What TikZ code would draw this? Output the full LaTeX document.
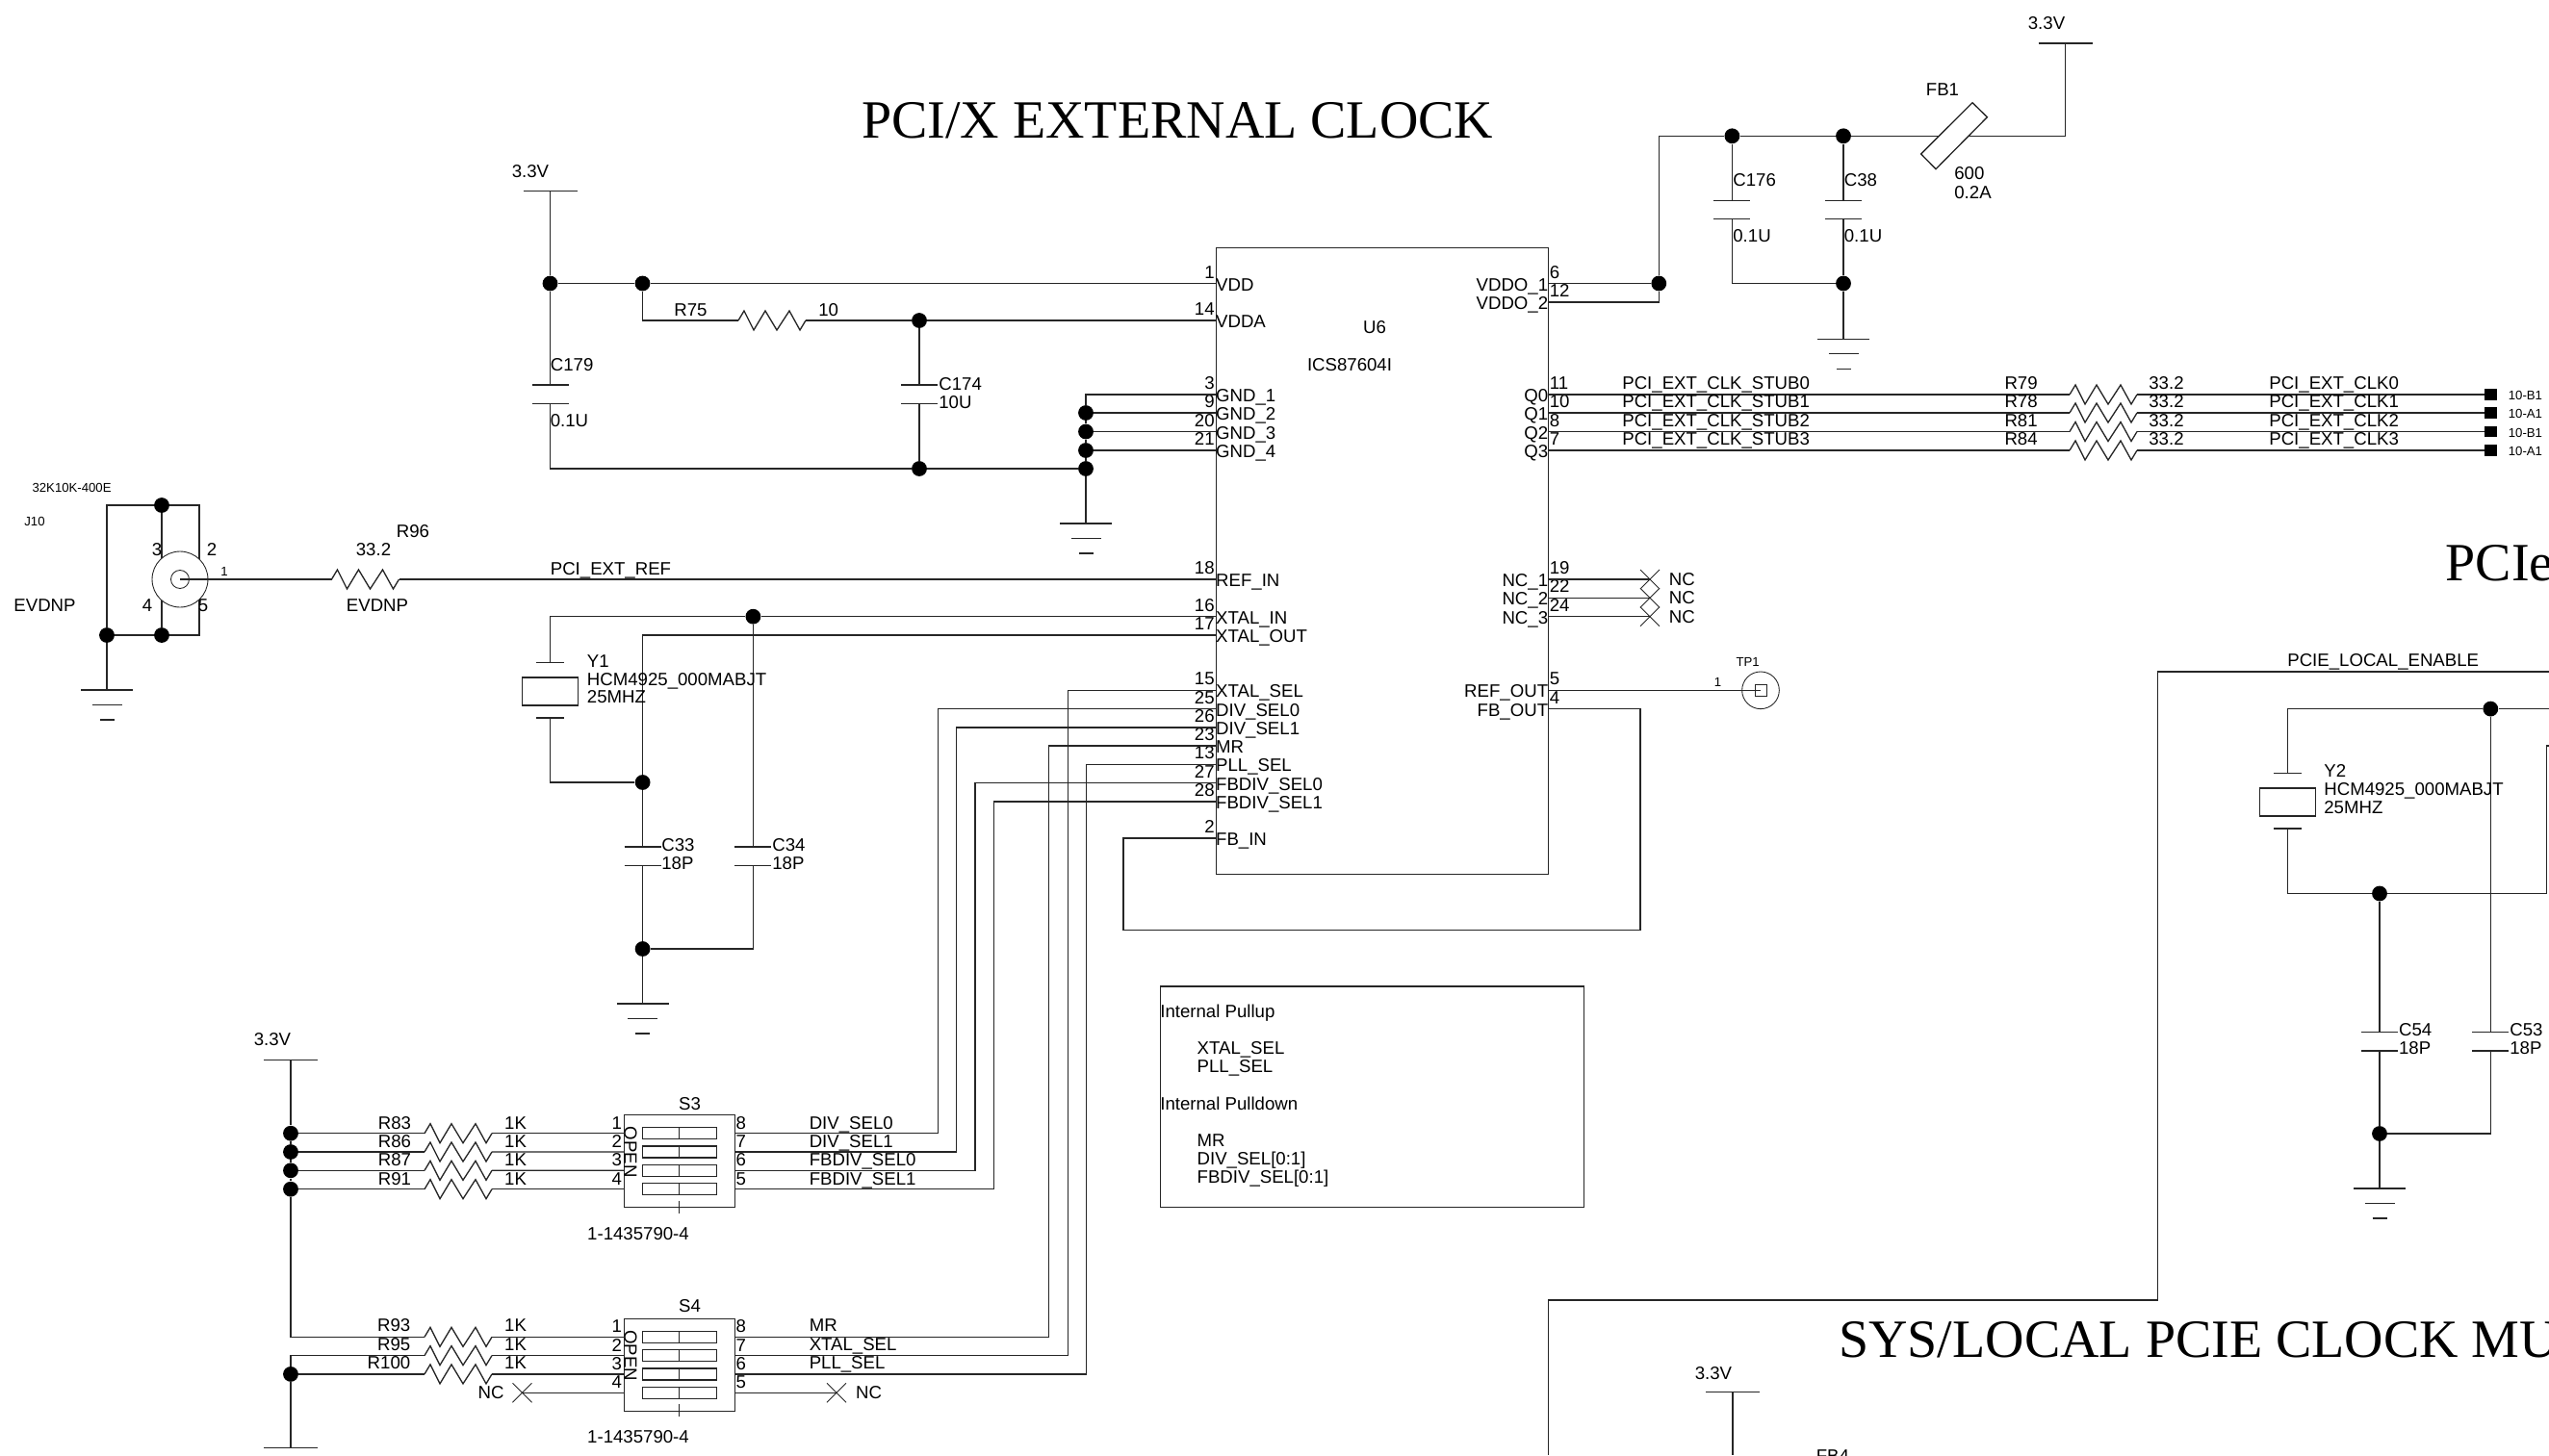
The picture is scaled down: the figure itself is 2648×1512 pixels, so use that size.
\documentclass[tikz,border=0pt]{standalone}
\usepackage{fontspec}
\setmainfont{Liberation Sans}
\newfontfamily\titlefont{Liberation Serif}
\usetikzlibrary{positioning}
\tikzset{
  wire/.style={line width=.75pt,draw=black!85},
  junc/.style={circle,fill=black,inner sep=0pt,minimum size=9pt},
  txt/.style={inner sep=0pt,text height=7.6pt,text depth=0pt,font=\fontsize{10.6}{12}\selectfont},
  tinytxt/.style={inner sep=0pt,text height=5.4pt,text depth=0pt,font=\fontsize{7.5}{9}\selectfont},
  heading/.style={inner sep=0pt,anchor=base west,font=\titlefont\fontsize{31.85}{36}\selectfont},
  pics/res/.style={code={
    \draw[wire] (0,0) -- (6,-10) -- (16,10) -- (28,-10) -- (40,10) -- (53,-10) -- (64,10) -- (70,0);
    \coordinate (-in) at (0,0);
    \coordinate (-out) at (70,0);}},
  pics/cap/.style={code={
    \draw[wire] (-19,0) -- (19,0) (-19,19.5) -- (19,19.5);
    \coordinate (-a) at (0,0);
    \coordinate (-b) at (0,19.5);}},
  pics/gnd/.style={code={
    \draw[wire] (-27,0) -- (27,0) (-15.5,15.5) -- (15.5,15.5) (-7.5,31) -- (7.5,31);
    \coordinate (-top) at (0,0);}},
  pics/vcc/.style={code={
    \draw[wire] (-28,0) -- (28,0);
    \coordinate (-o) at (0,0);}},
  pics/xtal/.style={code={
    \draw[wire] (-14.5,0) -- (14.5,0) (-14.5,57.5) -- (14.5,57.5) (-29,15.5) rectangle (29,44.5);
    \coordinate (-a) at (0,0);
    \coordinate (-b) at (0,57.5);}},
  pics/cross/.style={code={
    \draw[wire,line width=.5pt] (-10,-10) -- (10,10) (-10,10) -- (10,-10);
    \coordinate (-c) at (0,0);}},
  pics/bead/.style={code={
    \draw[wire,fill=white] (19.6,-34.6) -- (35,-19.6) -- (-18.4,34.4) -- (-33.8,18.7) -- cycle;
    \coordinate (-w) at (-15.3,0);
    \coordinate (-e) at (15.3,0);}},
  pics/dip/.style={code={
    \draw[wire] (0,0) rectangle (115,96);
    \draw[wire] (57,89) -- (57,102);
    \node[txt,rotate=-90] (-open) at (6.5,38.5) {OPEN};
    \foreach \i/\k/\yy in {1/8/19,2/7/38.3,3/6/57.6,4/5/77}{
      \draw[wire] (19,\yy-6) rectangle (96,\yy+6) (57,\yy-6) -- (57,\yy+6);
      \coordinate (-l\i) at (0,\yy);
      \coordinate (-r\i) at (115,\yy);
      \node[txt,anchor=east] (-nl\i) at (-2.3,\yy-11) {\i};
      \node[txt,anchor=west] (-nr\i) at (115.5,\yy-11) {\k};
    }}}
}
\begin{document}
\begin{tikzpicture}[x=0.02cm,y=-0.02cm]
  \clip (0,0) rectangle (2648,1512);

  \node[heading] (title1) at (895,143.7) {PCI/X EXTERNAL CLOCK};
  \node[heading] (title2) at (2540.2,603) {PCIe};
  \node[heading] (title3) at (1910,1410) {SYS/LOCAL PCIE CLOCK MU};

  % U6
  \node[draw=black!85,line width=.75pt,minimum width=346.5pt*.5669,minimum height=654pt*.5669,inner sep=0pt,anchor=north west] (u6) at (1262.5,256.5) {};
  \node[txt] (u6name) at (1428,340) {U6};
  \node[txt] (u6part) at (1402,379) {ICS87604I};
  \foreach \pn/\lab/\yy in {1/VDD/294.5,14/VDDA/333,3/GND\_1/410,9/GND\_2/429,20/GND\_3/448.5,21/GND\_4/468,18/REF\_IN/602,16/XTAL\_IN/640.7,17/XTAL\_OUT/660,15/XTAL\_SEL/717.3,25/DIV\_SEL0/736.6,26/DIV\_SEL1/756,23/MR/775,13/PLL\_SEL/794.3,27/FBDIV\_SEL0/813.5,28/FBDIV\_SEL1/833,2/FB\_IN/871}{
    \coordinate (p\pn) at (1262.5,\yy);
    \node[txt,anchor=east] (n\pn) at (1262,\yy-12) {\pn};
    \node[txt,anchor=west] (t\pn) at (1262.8,\yy+1) {\lab};
  }
  \foreach \pn/\lab/\yy in {6/VDDO\_1/294.5,12/VDDO\_2/314,11/Q0/410,10/Q1/429,8/Q2/448.5,7/Q3/468,19/NC\_1/602,22/NC\_2/621.3,24/NC\_3/640.7,5/REF\_OUT/717.3,4/FB\_OUT/736.6}{
    \coordinate (p\pn) at (1609,\yy);
    \node[txt,anchor=west] (n\pn) at (1609.5,\yy-12) {\pn};
    \node[txt,anchor=east] (t\pn) at (1608.5,\yy+1) {\lab};
  }

  % VDD side
  \pic (v1) at (571.5,198.7) {vcc};
  \node[txt] (v1t) at (551,178) {3.3V};
  \node[junc] (j1) at (571.5,294.5) {};
  \node[junc] (j2) at (667.5,294.5) {};
  \node[junc] (j3) at (955,333) {};
  \node[junc] (j4) at (955,487) {};
  \node[junc] (j5) at (1128,429) {};
  \node[junc] (j6) at (1128,448.5) {};
  \node[junc] (j7) at (1128,468) {};
  \node[junc] (j8) at (1128,487) {};
  \pic (r75) at (767,333) {res};
  \pic (c179) at (571.5,400) {cap};
  \pic (c174) at (955,400) {cap};
  \pic (g1) at (1128,544) {gnd};
  \draw[wire] (v1-o) -- (j1) -- (j2) -- (p1);
  \draw[wire] (j2) |- (r75-in);
  \draw[wire] (r75-out) -- (j3) -- (p14);
  \draw[wire] (j1) -- (c179-a);
  \draw[wire] (c179-b) |- (j4);
  \draw[wire] (j3) -- (c174-a);
  \draw[wire] (c174-b) -- (j4) -- (j8) -- (g1-top);
  \draw[wire] (p3) -| (j5);
  \draw[wire] (j5) -- (p9);
  \draw[wire] (j6) -- (p20);
  \draw[wire] (j7) -- (p21);
  \draw[wire] (j5) -- (j6) -- (j7) -- (j8);
  \node[txt,anchor=west] (r75t) at (700,321.7) {R75};
  \node[txt,anchor=west] (r75v) at (850,321.7) {10};
  \node[txt,anchor=west] (c179t) at (571.5,378.7) {C179};
  \node[txt,anchor=west] (c179v) at (571.5,436.7) {0.1U};
  \node[txt,anchor=west] (c174t) at (975,398.7) {C174};
  \node[txt,anchor=west] (c174v) at (975,417.7) {10U};

  % J10 and reference input
  \node[junc] (ja) at (168,525) {};
  \node[junc] (jb) at (168,660) {};
  \node[junc] (jc) at (111,660) {};
  \coordinate (jd) at (207,660);
  \pic (g2) at (111,717) {gnd};
  \pic (r96) at (344.5,602) {res};
  \draw[wire] (jc) |- (ja) -| (jd) -- (jb) -- (jc);
  \draw[wire] (ja) -- (jb);
  \draw[wire] (jc) -- (g2-top);
  \node[circle,draw=black!85,fill=white,line width=.5pt,inner sep=0pt,minimum size=33pt] (j10) at (187,602) {};
  \node[circle,draw=black!85,line width=.5pt,inner sep=0pt,minimum size=10.8pt] (j10in) at (187,602) {};
  \draw[wire] (j10in.center) -- (r96-in);
  \draw[wire] (r96-out) -- (p18);
  \node[tinytxt] (j10part) at (74.6,506.7) {32K10K-400E};
  \node[tinytxt] (j10t) at (36,542) {J10};
  \node[txt] (j3t) at (163,570.7) {3};
  \node[txt] (j2t) at (220,570.7) {2};
  \node[txt] (j4t) at (153,629) {4};
  \node[txt] (j5t) at (211,629) {5};
  \node[tinytxt] (j1t) at (233,593.6) {1};
  \node[txt] (dnp1) at (46.5,629) {EVDNP};
  \node[txt] (dnp2) at (392,629) {EVDNP};
  \node[txt] (r96t) at (429,551.7) {R96};
  \node[txt] (r96v) at (388,571) {33.2};
  \node[txt,anchor=west] (refnet) at (571.5,590.5) {PCI\_EXT\_REF};

  % Y1
  \pic (y1) at (571.8,688.5) {xtal};
  \node[junc] (j9) at (782.4,640.7) {};
  \node[junc] (j11) at (667.6,813) {};
  \node[junc] (j12) at (667.6,986) {};
  \pic (c33) at (667.6,880) {cap};
  \pic (c34) at (782.4,880) {cap};
  \pic (g3) at (667.6,1043) {gnd};
  \draw[wire] (p16) -- (j9) -| (y1-a);
  \draw[wire] (p17) -| (j11);
  \draw[wire] (y1-b) |- (j11);
  \draw[wire] (j11) -- (c33-a);
  \draw[wire] (c33-b) -- (j12) -- (g3-top);
  \draw[wire] (j9) -- (c34-a);
  \draw[wire] (c34-b) |- (j12);
  \node[txt,anchor=west] (y1t) at (609.6,686.6) {Y1};
  \node[txt,anchor=west] (y1p) at (609.6,705.5) {HCM4925\_000MABJT};
  \node[txt,anchor=west] (y1f) at (609.6,724) {25MHZ};
  \node[txt,anchor=west] (c33t) at (687,878) {C33};
  \node[txt,anchor=west] (c33v) at (687,897) {18P};
  \node[txt,anchor=west] (c34t) at (802,878) {C34};
  \node[txt,anchor=west] (c34v) at (802,897) {18P};

  % VDDO
  \node[junc] (j13) at (1723.3,294.5) {};
  \node[junc] (j14) at (1799.4,141.3) {};
  \node[junc] (j15) at (1915,141.3) {};
  \node[junc] (j16) at (1915,294.5) {};
  \pic (fb1) at (2029.4,141.3) {bead};
  \pic (v2) at (2145.7,45) {vcc};
  \pic (c176) at (1799.4,208.3) {cap};
  \pic (c38) at (1915,208.3) {cap};
  \pic (g4) at (1915,352.3) {gnd};
  \draw[wire] (p6) -- (j13);
  \draw[wire] (p12) -| (j13);
  \draw[wire] (j13) |- (j14);
  \draw[wire] (j14) -- (j15) -- (fb1-w);
  \draw[wire] (fb1-e) -| (v2-o);
  \draw[wire] (j14) -- (c176-a);
  \draw[wire] (c176-b) |- (j16);
  \draw[wire] (j15) -- (c38-a);
  \draw[wire] (c38-b) -- (j16) -- (g4-top);
  \node[txt] (v2t) at (2126,24) {3.3V};
  \node[txt] (fb1t) at (2018,92.7) {FB1};
  \node[txt,anchor=west] (fb1v) at (2030,180) {600};
  \node[txt,anchor=west] (fb1a) at (2030,200) {0.2A};
  \node[txt,anchor=west] (c176t) at (1800,186.7) {C176};
  \node[txt,anchor=west] (c176v) at (1800,245) {0.1U};
  \node[txt,anchor=west] (c38t) at (1915.5,186.7) {C38};
  \node[txt,anchor=west] (c38v) at (1915.5,245) {0.1U};

  % clock outputs
  \foreach \pn/\ind/\rn/\pg/\yy in {11/0/R79/10-B1/410,10/1/R78/10-A1/429,8/2/R81/10-B1/448.5,7/3/R84/10-A1/468}{
    \pic (rq\ind) at (2150,\yy) {res};
    \node[fill=black,inner sep=0pt,minimum width=7.4pt,minimum height=6.8pt] (tq\ind) at (2587.5,\yy) {};
    \draw[wire] (p\pn) -- (rq\ind-in);
    \draw[wire] (rq\ind-out) -- (tq\ind);
    \node[txt,anchor=west] (stub\ind) at (1685,\yy-11.7) {PCI\_EXT\_CLK\_STUB\ind};
    \node[txt] (rqn\ind) at (2099.6,\yy-11.7) {\rn};
    \node[txt,anchor=west] (rqv\ind) at (2232,\yy-11.7) {33.2};
    \node[txt,anchor=west] (clk\ind) at (2357,\yy-11.7) {PCI\_EXT\_CLK\ind};
    \node[tinytxt,anchor=west] (pg\ind) at (2605.5,\yy+1) {\pg};
  }

  % no connects, test point
  \foreach \pn/\yy in {19/602,22/621.3,24/640.7}{
    \pic (nc\pn) at (1714,\yy) {cross};
    \draw[wire] (p\pn) -- (nc\pn-c);
    \node[txt,anchor=west] (nct\pn) at (1733.6,\yy) {NC};
  }
  \node[circle,draw=black!85,line width=.5pt,inner sep=0pt,minimum size=22pt] (tp1) at (1829,717.3) {};
  \node[draw=black!85,line width=.5pt,inner sep=0pt,minimum size=6.8pt] (tp1b) at (1829,717.3) {};
  \draw[wire] (p5) -- (tp1b.center);
  \node[tinytxt] (tp1t) at (1815.7,688) {TP1};
  \node[tinytxt] (tp1n) at (1784.5,708.6) {1};

  % feedback
  \coordinate (fbc) at (1704,966.7);
  \coordinate (fbd) at (1167,966.7);
  \draw[wire] (p4) -| (fbc) -- (fbd) |- (p2);

  % note
  \node[draw=black!85,line width=.75pt,inner sep=0pt,minimum width=441.7*.5669pt,minimum height=230.7*.5669pt,anchor=north west] (note) at (1205,1024.3) {};
  \node[txt,anchor=west] (note1) at (1205,1050.7) {Internal Pullup};
  \node[txt,anchor=west] (note2) at (1243.3,1089) {XTAL\_SEL};
  \node[txt,anchor=west] (note3) at (1243.3,1108) {PLL\_SEL};
  \node[txt,anchor=west] (note4) at (1205,1146.7) {Internal Pulldown};
  \node[txt,anchor=west] (note5) at (1243.3,1185) {MR};
  \node[txt,anchor=west] (note6) at (1243.3,1204) {DIV\_SEL[0:1]};
  \node[txt,anchor=west] (note7) at (1243.3,1223) {FBDIV\_SEL[0:1]};

  % S3
  \pic (v3) at (302,1101.3) {vcc};
  \node[txt] (v3t) at (283,1080) {3.3V};
  \pic (s3) at (648.7,1158.7) {dip};
  \node[txt] (s3t) at (716.5,1146.7) {S3};
  \node[txt] (s3p) at (663,1281.7) {1-1435790-4};
  \foreach \i/\rn/\net/\pn/\xb/\yy/\yb in {1/R83/DIV\_SEL0/25/974.5/1177.7/736.6,2/R86/DIV\_SEL1/26/993.7/1197/756,3/R87/FBDIV\_SEL0/27/1013/1216.3/813.5,4/R91/FBDIV\_SEL1/28/1032.5/1235.7/833}{
    \node[junc] (ja\i) at (302,\yy) {};
    \pic (ra\i) at (441,\yy) {res};
    \coordinate (ba\i) at (\xb,\yb);
    \draw[wire] (ja\i) -- (ra\i-in);
    \draw[wire] (ra\i-out) -- (s3-l\i);
    \draw[wire] (s3-r\i) -| (ba\i) -- (p\pn);
    \node[txt] (rat\i) at (410,\yy-11) {\rn};
    \node[txt] (rav\i) at (535.6,\yy-11) {1K};
    \node[txt,anchor=west] (nat\i) at (840.4,\yy-11) {\net};
  }
  \draw[wire] (v3-o) -- (ja1) -- (ja2) -- (ja3) -- (ja4);

  % S4
  \pic (s4) at (648.7,1370.3) {dip};
  \node[txt] (s4t) at (716.5,1357.3) {S4};
  \node[txt] (s4p) at (663,1493) {1-1435790-4};
  \foreach \i/\rn/\net/\pn/\xb/\yy/\yb in {1/R93/MR/23/1089.7/1389.3/775,2/R95/XTAL\_SEL/15/1109.5/1408.6/717.3,3/R100/PLL\_SEL/13/1128.5/1427.9/794.3}{
    \pic (rb\i) at (441,\yy) {res};
    \coordinate (bb\i) at (\xb,\yb);
    \draw[wire] (rb\i-out) -- (s4-l\i);
    \draw[wire] (s4-r\i) -| (bb\i) -- (p\pn);
    \node[txt,anchor=east] (rbt\i) at (426.6,\yy-12) {\rn};
    \node[txt] (rbv\i) at (535.6,\yy-12) {1K};
    \node[txt,anchor=west] (nbt\i) at (840.4,\yy-12) {\net};
  }
  \node[junc] (j21) at (302,1427.9) {};
  \pic (v5) at (302,1504.3) {vcc};
  \draw[wire] (ja4) |- (rb1-in);
  \draw[wire] (rb2-in) -| (j21);
  \draw[wire] (rb3-in) -- (j21) -- (v5-o);
  \pic (nca) at (542.5,1447.3) {cross};
  \pic (ncb) at (869,1447.3) {cross};
  \draw[wire] (s4-l4) -- (nca-c);
  \draw[wire] (s4-r4) -- (ncb-c);
  \node[txt] (ncat) at (510,1447.3) {NC};
  \node[txt,anchor=west] (ncbt) at (888.7,1447.3) {NC};

  % Y2 and local clock
  \pic (y2) at (2376.3,803.5) {xtal};
  \node[junc] (j22) at (2587.3,736.6) {};
  \node[junc] (j23) at (2472,928.5) {};
  \node[junc] (j24) at (2472,1178) {};
  \pic (c54) at (2472,1072.5) {cap};
  \pic (c53) at (2587.3,1072.5) {cap};
  \pic (g5) at (2472,1235) {gnd};
  \coordinate (e1) at (2648,736.6);
  \coordinate (e2) at (2645.3,928.5);
  \coordinate (e3) at (2648,775);
  \draw[wire] (y2-a) |- (j22) -- (e1);
  \draw[wire] (y2-b) |- (j23) -- (e2) |- (e3);
  \draw[wire] (j22) -- (c53-a);
  \draw[wire] (c53-b) |- (j24);
  \draw[wire] (j23) -- (c54-a);
  \draw[wire] (c54-b) -- (j24) -- (g5-top);
  \coordinate (l1) at (2648,698);
  \coordinate (l2) at (2241.7,1351);
  \coordinate (l3) at (1608.6,1512);
  \draw[wire] (l1) -| (l2) -| (l3);
  \node[txt,anchor=west] (lnet) at (2376,686) {PCIE\_LOCAL\_ENABLE};
  \node[txt,anchor=west] (y2t) at (2414,801) {Y2};
  \node[txt,anchor=west] (y2p) at (2414,820) {HCM4925\_000MABJT};
  \node[txt,anchor=west] (y2f) at (2414,839) {25MHZ};
  \node[txt,anchor=west] (c54t) at (2491.7,1070) {C54};
  \node[txt,anchor=west] (c54v) at (2491.7,1089) {18P};
  \node[txt,anchor=west] (c53t) at (2607,1070) {C53};
  \node[txt,anchor=west] (c53v) at (2607,1089) {18P};

  % lower supply
  \pic (v4) at (1800,1446.7) {vcc};
  \coordinate (v4e) at (1800,1512);
  \draw[wire] (v4-o) -- (v4e);
  \node[txt] (v4t) at (1780,1426.7) {3.3V};
  \node[txt,anchor=west] (fb4t) at (1886.5,1513) {FB4};
\end{tikzpicture}
\end{document}
